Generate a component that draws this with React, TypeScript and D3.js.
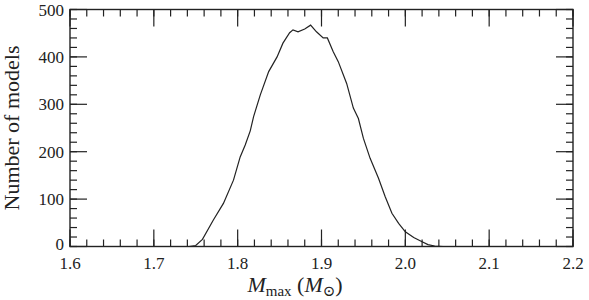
import React from 'react';
import * as d3 from 'd3';

// histogram outline
const massValues = [
  1.742, 1.750, 1.758, 1.771, 1.783, 1.795, 1.803, 1.809, 1.815, 1.819, 1.827,
  1.837, 1.847, 1.854, 1.862, 1.866, 1.872, 1.880, 1.887, 1.894, 1.902, 1.907,
  1.914, 1.920, 1.930, 1.938, 1.944, 1.950, 1.958, 1.968, 1.976, 1.984, 1.992,
  2.000, 2.010, 2.020, 2.027, 2.035, 2.045, 2.056,
];
const modelCounts = [
  0, 2, 15, 56, 91, 140, 189, 214, 244, 274, 320,
  369, 400, 429, 451, 457, 453, 459, 467, 453, 440, 440,
  411, 390, 344, 292, 270, 228, 186, 144, 105, 70, 49,
  31, 19, 10, 4, 1, 0, 0,
];

const xTickValues = [1.6, 1.7, 1.8, 1.9, 2.0, 2.1, 2.2];
const yTickValues = [0, 100, 200, 300, 400, 500];

const W = 589;
const H = 300;
const margin = { top: 9.5, right: 16, bottom: 53.5, left: 70 };
const font = '"Liberation Serif", "DejaVu Serif", serif';

const App: React.FC = () => {
  const x = d3.scaleLinear().domain([1.6, 2.2]).range([margin.left, W - margin.right]);
  const y = d3.scaleLinear().domain([0, 500]).range([H - margin.bottom, margin.top]);

  const pts = massValues.map((m, i) => [m, modelCounts[i]] as [number, number]);
  const line = d3.line<[number, number]>().x(d => x(d[0])).y(d => y(d[1]));

  const xMinor = d3.range(1.6, 2.2001, 0.02);
  const yMinor = d3.range(0, 500.001, 20);
  const x0 = x(1.6), x1 = x(2.2), y0 = y(0), y1 = y(500);
  const major = 17, minor = 7;
  const ink = '#222';

  return (
    <svg width={W} height={H} style={{ position: 'absolute', left: 0, top: 0, background: '#fff' }}>
      <path d={line(pts) || ''} fill="none" stroke={ink} strokeWidth={1.2} />

      {/* minor ticks */}
      {xMinor.map((v, i) => (
        <g key={'xm' + i} stroke={ink} strokeWidth={1.2}>
          <line x1={x(v)} x2={x(v)} y1={y0} y2={y0 - minor} />
          <line x1={x(v)} x2={x(v)} y1={y1} y2={y1 + minor} />
        </g>
      ))}
      {yMinor.map((v, i) => (
        <g key={'ym' + i} stroke={ink} strokeWidth={1.2}>
          <line x1={x0} x2={x0 + minor} y1={y(v)} y2={y(v)} />
          <line x1={x1} x2={x1 - minor} y1={y(v)} y2={y(v)} />
        </g>
      ))}
      {/* major ticks */}
      {xTickValues.map(v => (
        <g key={'xM' + v} stroke={ink} strokeWidth={1.2}>
          <line x1={x(v)} x2={x(v)} y1={y0} y2={y0 - major} />
          <line x1={x(v)} x2={x(v)} y1={y1} y2={y1 + major} />
        </g>
      ))}
      {yTickValues.map(v => (
        <g key={'yM' + v} stroke={ink} strokeWidth={1.2}>
          <line x1={x0} x2={x0 + major} y1={y(v)} y2={y(v)} />
          <line x1={x1} x2={x1 - major} y1={y(v)} y2={y(v)} />
        </g>
      ))}

      <rect x={x0} y={y1} width={x1 - x0} height={y0 - y1} fill="none" stroke={ink} strokeWidth={1.4} />

      {xTickValues.map(v => (
        <text key={'xl' + v} x={x(v)} y={y0 + 22} textAnchor="middle" fontFamily={font} fontSize={17} fill={ink}>
          {d3.format('.1f')(v)}
        </text>
      ))}
      {yTickValues.map(v => (
        <text key={'yl' + v} x={x0 - 6} y={y(v) + (v === 0 ? 3 : 6)} textAnchor="end" fontFamily={font} fontSize={17} fill={ink}>
          {v}
        </text>
      ))}

      <text x={295} y={292} textAnchor="middle" fontFamily={font} fontSize={22} fill={ink}>
        <tspan fontStyle="italic">M</tspan>
        <tspan fontSize={15} dy={4}>max</tspan>
        <tspan dy={-4}> (</tspan>
        <tspan fontStyle="italic">M</tspan>
        <tspan fontSize={15} dy={4}>⊙</tspan>
        <tspan dy={-4}>)</tspan>
      </text>
      <text transform={`translate(19,${(y0 + y1) / 2}) rotate(-90)`} textAnchor="middle" fontFamily={font} fontSize={22} fill={ink}>
        Number of models
      </text>
    </svg>
  );
};

export default App;
